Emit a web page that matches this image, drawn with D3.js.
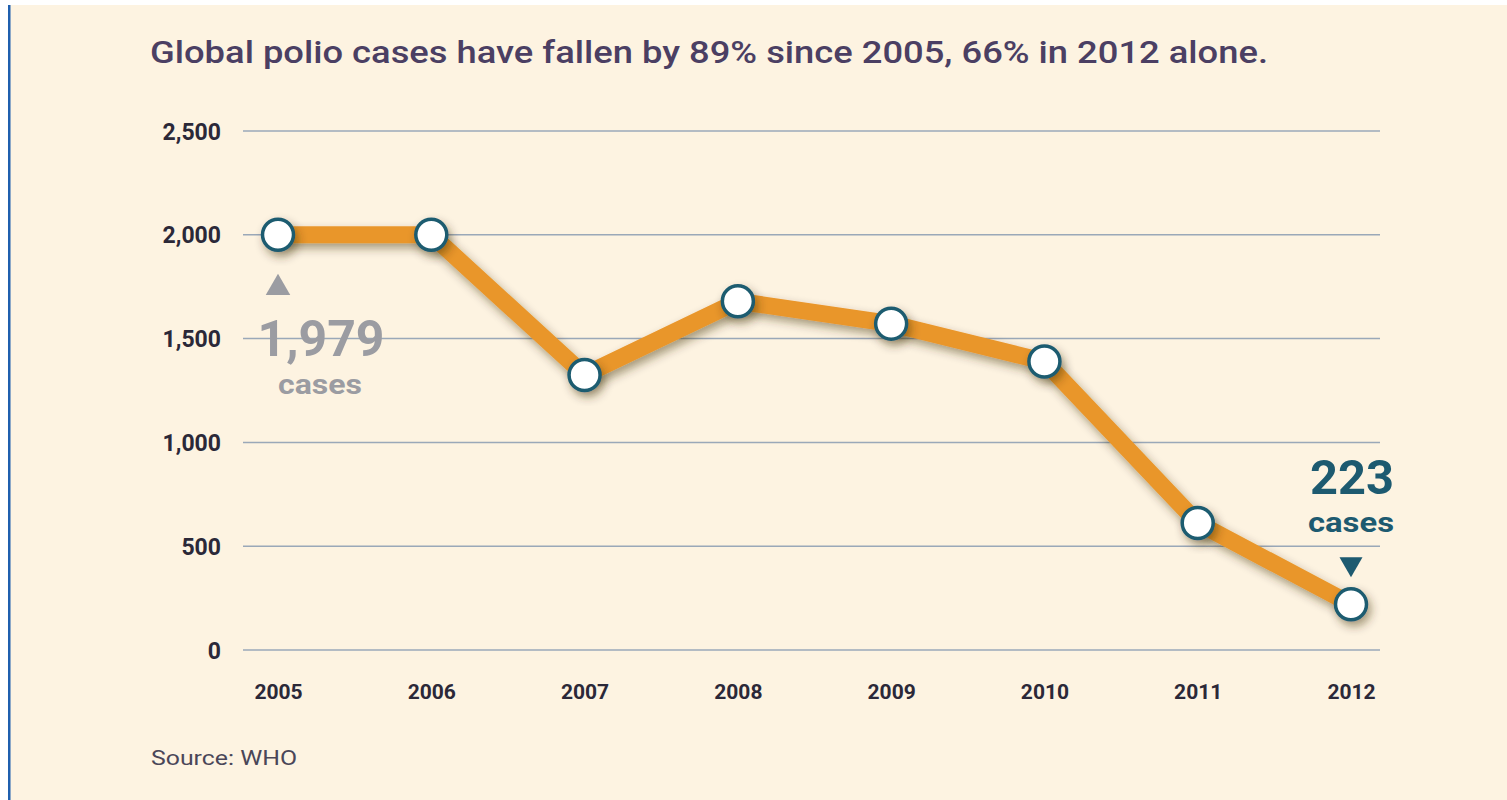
<!DOCTYPE html>
<html><head><meta charset="utf-8">
<script src="https://cdn.jsdelivr.net/npm/d3@7"></script>
<style>html,body{margin:0;padding:0;background:#fff;}svg{display:block;}</style>
</head><body>
<script>
const years = ["2005","2006","2007","2008","2009","2010","2011","2012"];
const cases = [2000, 2000, 1325, 1680, 1572, 1390, 612, 220];
const yTicks = [0, 500, 1000, 1500, 2000, 2500];
const titleText = "Global polio cases have fallen by 89% since 2005, 66% in 2012 alone.";
const sourceText = "Source: WHO";
const startNote = ["1,979", "cases"];
const endNote = ["223", "cases"];

const W = 1507, H = 800;
const svg = d3.select("body").append("svg").attr("width", W).attr("height", H);
const defs = svg.append("defs");
const f = defs.append("filter").attr("id","sh").attr("x","-50%").attr("y","-50%").attr("width","200%").attr("height","200%");
f.append("feDropShadow").attr("dx",3).attr("dy",5).attr("stdDeviation",5).attr("flood-color","#3a2a10").attr("flood-opacity",0.45);

svg.append("rect").attr("x",0).attr("y",0).attr("width",W).attr("height",H).attr("fill","#fff");
svg.append("rect").attr("x",8).attr("y",5).attr("width",W-8).attr("height",H-5).attr("fill","#FDF3E1");
svg.append("rect").attr("x",8).attr("y",5).attr("width",2.5).attr("height",H-5).attr("fill","#1F5FAE");

const x = d3.scalePoint().domain(years).range([278, 1351]);
const y = d3.scaleLinear().domain([0, 2500]).range([650, 131]);

// title
svg.append("text").attr("x",150).attr("y",63).text(titleText)
  .attr("font-family","Roboto, 'DejaVu Sans', sans-serif").attr("font-weight",500)
  .attr("font-size",31).attr("fill","#4B3F63")
  .attr("textLength",1118).attr("lengthAdjust","spacingAndGlyphs");

// y axis grid
const yAxis = d3.axisLeft(y).tickValues(yTicks).tickSize(0).tickFormat(d3.format(","));
const gy = svg.append("g").attr("transform","translate(221,0)").call(yAxis);
gy.select(".domain").remove();
gy.selectAll("text").attr("x",0).attr("dy","0.35em")
  .attr("font-family","Roboto, sans-serif").attr("font-weight",700).attr("font-size",23).attr("fill","#2B2838");
svg.append("g").selectAll("line").data(yTicks).join("line")
  .attr("x1",243).attr("x2",1380).attr("y1",d=>y(d)).attr("y2",d=>y(d))
  .attr("stroke","#9AA8B8").attr("stroke-width",1.5);

// x axis
const xAxis = d3.axisBottom(x).tickSize(0);
const gx = svg.append("g").attr("transform","translate(0,680)").call(xAxis);
gx.select(".domain").remove();
gx.selectAll("text").attr("dy","0.75em").attr("y",3)
  .attr("font-family","Roboto, sans-serif").attr("font-weight",700).attr("font-size",21).attr("fill","#2B2838");

// annotations
const ann = svg.append("g").attr("font-family","Roboto, sans-serif").attr("font-weight",700).attr("text-anchor","middle");
ann.append("path").attr("d", d3.symbol(d3.symbolTriangle, 260)()).attr("transform",`translate(${x("2005")},288)`).attr("fill","#9B9CA2");
ann.append("text").attr("fill","#9B9CA2").attr("x",321).attr("y",356).attr("font-size",50)
  .attr("textLength",127).attr("lengthAdjust","spacingAndGlyphs").text(startNote[0]);
ann.append("text").attr("fill","#9B9CA2").attr("x",320).attr("y",394).attr("font-size",28)
  .attr("textLength",84).attr("lengthAdjust","spacingAndGlyphs").text(startNote[1]);

ann.append("text").attr("fill","#1D5A70").attr("x",1352).attr("y",494).attr("font-size",48)
  .attr("textLength",84).attr("lengthAdjust","spacingAndGlyphs").text(endNote[0]);
ann.append("text").attr("fill","#1D5A70").attr("x",1351).attr("y",532).attr("font-size",28)
  .attr("textLength",86).attr("lengthAdjust","spacingAndGlyphs").text(endNote[1]);
ann.append("path").attr("d", d3.symbol(d3.symbolTriangle, 230)()).attr("transform",`translate(${x("2012")},564) rotate(180)`).attr("fill","#1D5A70");

// line
const pts = years.map((yr,i)=>[x(yr), y(cases[i])]);
svg.append("path").datum(pts).attr("d", d3.line())
  .attr("fill","none").attr("stroke","#E9962B").attr("stroke-width",17)
  .attr("stroke-linejoin","miter").attr("filter","url(#sh)");
svg.append("g").selectAll("circle").data(pts).join("circle")
  .attr("cx",d=>d[0]).attr("cy",d=>d[1]).attr("r",15.5)
  .attr("fill","#fff").attr("stroke","#1D5B6F").attr("stroke-width",3.5).attr("filter","url(#sh)");

// source
svg.append("text").attr("x",151).attr("y",765).text(sourceText)
  .attr("font-family","Roboto, sans-serif").attr("font-size",20).attr("fill","#4A4658")
  .attr("textLength",146).attr("lengthAdjust","spacingAndGlyphs");
</script>
</body></html>
